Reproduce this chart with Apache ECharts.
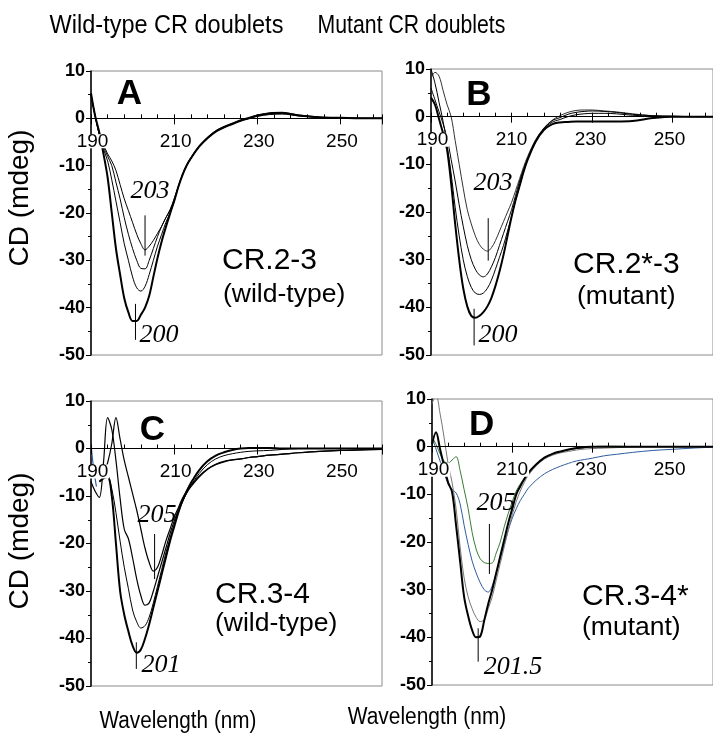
<!DOCTYPE html>
<html>
<head>
<meta charset="utf-8">
<script src="https://cdn.jsdelivr.net/npm/echarts@6/dist/echarts.min.js"></script>
<style>
html,body{margin:0;padding:0;background:#fff;}
#chart{width:713px;height:742px;}
</style>
</head>
<body>
<div id="chart"></div>
<script>
// ---- DATA ----
const X0 = 190; // axis origin (nm)
const xTickLabels = [190, 210, 230, 250];
const yTicks = [10, 0, -10, -20, -30, -40, -50];
const Y_MIN = -50, Y_MAX = 10;
const wl = [190,191,192,193,194,195,196,197,198,199,200,201,202,203,204,205,206,207,208,209,
            210,211,212,213,214,216,218,220,222,224,226,228,230,233,236,240,245,250,255,260];

// Panel A: CR.2-3 (wild-type)
const A1 = [5.3,0.5,-3,-7.5,-12.5,-20,-27.5,-33,-38,-41,-42.8,-42.8,-41.5,-40,-37.5,-33.5,-29.5,-26,-23,-20.2,
            -17.5,-14.5,-12,-10,-8.5,-6,-4.2,-2.8,-1.9,-1.2,-0.5,0,0.6,1.1,1.2,0.6,0.2,0.1,0,0];
const A2 = [5,0.5,-3.5,-6.5,-9,-13,-17.5,-22,-26.5,-30,-33.5,-35.8,-36.5,-35.5,-33,-30,-27,-24.5,-22,-20,
            -17.5,-14.5,-12,-10,-8.5,-6,-4.2,-2.8,-1.9,-1.2,-0.5,0,0.5,0.9,1.0,0.6,0.2,0.1,0,0];
const A3 = [5,0.5,-3.5,-6,-8,-10,-13.5,-17,-21,-24.5,-27.5,-30,-31.7,-31.8,-30,-27.5,-25,-22.8,-21,-19.5,
            -17.3,-14.5,-12,-10,-8.5,-6,-4.2,-2.8,-1.9,-1.2,-0.5,0,0.4,0.8,0.9,0.5,0.2,0.1,0,0];
const A4 = [5,0.5,-3,-5.5,-7.5,-9,-11,-14,-17,-19.5,-22,-24.5,-26.5,-27.8,-27,-25.8,-24.3,-22.8,-21,-19.3,
            -17,-14.3,-11.8,-9.8,-8.3,-5.8,-4,-2.6,-1.7,-1,-0.3,0.2,0.7,1.1,1.2,0.7,0.3,0.1,0,0];

// Panel B: CR.2*-3 (mutant)
const B1 = [4,2.5,-0.5,-3.5,-7,-14,-22.5,-30,-36,-39.8,-41.8,-42.2,-41.8,-41,-39.8,-38,-35.5,-32.5,-29,-25,
            -21,-17.5,-14.5,-11.5,-9,-5.2,-2.8,-1.6,-1.2,-1.1,-1.0,-1.0,-1.0,-1.0,-1.0,-0.9,-0.3,0,0,0];
const B2 = [10,7,3,-1,-6,-12,-19,-25,-30,-33.5,-35.8,-37,-37.3,-37,-36,-34.3,-32,-29.5,-27,-24,
            -21,-17.5,-14.5,-11.5,-9,-5.2,-2.6,-1.2,-0.6,0,0.4,0.6,0.7,0.7,0.6,0.3,0.1,0,0,0];
const B3 = [6,3.5,1,-1.5,-4.5,-9,-13.5,-18.5,-23,-27,-30,-32,-33.2,-33.6,-33,-31.5,-29.5,-27,-24.5,-22,
            -19.5,-16.5,-13.5,-11,-8.8,-5,-2.5,-0.9,-0.2,0.5,0.9,1.1,1.2,1.1,0.9,0.5,0.2,0.1,0,0];
const B4 = [8,9.3,8.5,5.5,2.5,0,-5,-10,-15,-19.5,-22.5,-25,-26.8,-27.8,-28.2,-27.5,-26,-24,-22,-20,
            -18,-15.5,-13,-10.5,-8.3,-4.8,-2.4,-0.8,0.2,0.9,1.3,1.4,1.4,1.2,1.0,0.6,0.2,0.1,0,0];

// Panel C: CR.3-4 (wild-type)
const C1 = [null,null,-7,-6.3,-6,-10,-20,-30,-35,-38.5,-41.5,-43,-42.3,-40,-37,-33.5,-30,-26.5,-23,-19.5,
            -16.5,-13.5,-11,-9,-7.3,-4.6,-2.7,-1.5,-0.8,-0.3,0,0.1,0.1,0.1,0,0,0,0,0,0];
const C2 = [null,null,null,-6,-5.8,-8.5,-13.5,-19.5,-25,-29.5,-34,-36.5,-37.8,-37.3,-35.5,-32.5,-29,-25.5,-22,-19,
            -16,-13.5,-11.3,-9.4,-7.8,-5.3,-3.4,-2.2,-1.5,-1.1,-0.8,-0.6,-0.5,-0.4,-0.2,0,0,0,0,0];
const C3 = [-7,-9,-10.3,-3,6.5,4,-2.5,-10.5,-17,-19,-23,-27.5,-31,-33,-32.5,-30,-27,-24,-21,-18,
            -15.3,-13,-11,-9.4,-8.1,-6,-4.4,-3.4,-2.8,-2.4,-2.2,-1.9,-1.7,-1.4,-1.2,-0.9,-0.6,-0.4,-0.3,-0.2];
const C4 = [null,null,null,-5.5,-3,1,6.5,2,-2.5,-6,-9.5,-13,-17,-21,-24,-25.8,-25,-22.5,-19.5,-17,
            -14.5,-12.5,-10.5,-9,-7.8,-5.8,-4.3,-3.3,-2.7,-2.4,-2.2,-1.9,-1.7,-1.4,-1.2,-0.9,-0.6,-0.4,-0.3,-0.2];
const Cblue_wl = [190.1, 190.6, 191.3];
const Cblue    = [0, -4, -8];

// Panel D: CR.3-4* (mutant)
const D1 = [0.5,3,-0.5,-4,-7.5,-9.5,-16.5,-24,-31.5,-35.5,-38.5,-40,-39.8,-36.5,-33,-30,-26.5,-23,-19.5,-16,
            -13,-10,-8.3,-6.8,-5.5,-3.7,-2.3,-1.5,-1,-0.6,-0.3,-0.1,0,0,0,0,0,0,0,0];
const D2 = [9,10.8,7,2,-3.5,-7.5,-13,-21,-27.5,-31.5,-34,-35.8,-36.7,-36.3,-34,-31.5,-28,-24.5,-21,-17.5,
            -14.3,-11.5,-9.3,-7.5,-6,-4,-2.6,-1.8,-1.3,-1,-0.7,-0.5,-0.4,-0.3,-0.2,-0.1,0,0,0,0];
const D3 = [2,-0.5,-3,-5.5,-7.8,-9,-9.7,-12,-16.5,-20.5,-24,-26.5,-28.5,-30,-30.5,-29.2,-26.5,-23.5,-20.5,-17.5,
            -15,-13,-11.3,-10,-8.7,-7,-5.7,-4.8,-4.1,-3.5,-3,-2.7,-2.4,-1.9,-1.6,-1.2,-0.8,-0.55,-0.3,-0.1];
const D4 = [2,0.5,-1.5,-3,-3.5,-2.8,-2.1,-5,-9,-13,-18,-21.5,-23.5,-24.3,-24.5,-24.4,-22.3,-20,-16.8,-14,
            -11.5,-9.3,-7.8,-6.6,-5.5,-3.6,-2.4,-1.6,-1.1,-0.7,-0.4,-0.2,0,0.1,0.1,0,0,0,0,0];

// peak-marker lines: [wavelength, yFrom, yTo]
const markA = [[203.0,-20.5,-29],[200.7,-39.2,-46.8]];
const markB = [[204.2,-21.3,-30.2],[200.7,-40.3,-48]];
const markC = [[205.3,-18,-27.5],[200.9,-40.8,-46.4]];
const markD = [[204.3,-16.2,-26.7],[201.5,-38.1,-45.1]];

// ---- CHART ----
const SANS = 'Liberation Sans, Arial, sans-serif';
const SERIF = 'Liberation Serif, Times New Roman, serif';
const panels = [
  {left:91, top:71, width:291, height:284},
  {left:431, top:69, width:290, height:286},
  {left:91, top:401, width:291, height:285},
  {left:432, top:399, width:290, height:286}
];
const N = panels.length;

// grids 0..3: plots; 4..7: overlay for upward minor ticks; 8..11: upper part (above y=0) carrying x labels
const gridOpts = [];
panels.forEach(g => gridOpts.push(Object.assign({show:true, borderColor:'#8a8a8a', borderWidth:1, containLabel:false}, g)));
panels.forEach(g => gridOpts.push(Object.assign({show:false, containLabel:false}, g)));
panels.forEach(g => gridOpts.push({show:false, containLabel:false, left:g.left, width:g.width, top:g.top,
  height:g.height * (Y_MAX - 0) / (Y_MAX - Y_MIN)}));

const xAxes = [], yAxes = [];
panels.forEach((g, i) => {
  xAxes.push({
    gridIndex:i, type:'value', position:'bottom', min:0, max:70, interval:20, z:5,
    axisLine:{show:true, onZero:true, lineStyle:{color:'#000', width:1}},
    axisTick:{show:true, length:6, lineStyle:{color:'#000', width:1}},
    axisLabel:{show:false}, splitLine:{show:false}
  });
  yAxes.push({
    gridIndex:i, type:'value', min:Y_MIN, max:Y_MAX, interval:10,
    axisLine:{show:true, onZero:false, lineStyle:{color:'#000', width:1.5}},
    axisTick:{show:true, length:5, lineStyle:{color:'#000', width:1}},
    minorTick:{show:true, splitNumber:2, length:3, lineStyle:{color:'#000', width:1}},
    axisLabel:{fontSize:18, fontWeight:'bold', fontFamily:SANS, color:'#000', margin:6,
      formatter:v => (yTicks.indexOf(v) >= 0 ? String(v) : '')},
    splitLine:{show:false}
  });
});
panels.forEach((g, i) => {
  xAxes.push({
    gridIndex:N + i, type:'value', position:'top', min:0, max:70, interval:4, z:5,
    axisLine:{show:false, onZero:true},
    axisTick:{show:true, length:4, lineStyle:{color:'#000', width:1}},
    axisLabel:{show:false}, splitLine:{show:false}
  });
  yAxes.push({
    gridIndex:N + i, type:'value', min:Y_MIN, max:Y_MAX, interval:10,
    axisLine:{show:false, onZero:false}, axisTick:{show:false}, axisLabel:{show:false}, splitLine:{show:false}
  });
});
panels.forEach((g, i) => {
  xAxes.push({
    gridIndex:2 * N + i, type:'value', position:'bottom', min:0, max:70, interval:20, z:6,
    axisLine:{show:false, onZero:false}, axisTick:{show:false},
    axisLabel:{show:true, formatter:v => (xTickLabels.indexOf(v + X0) >= 0 ? String(v + X0) : ''),
      fontSize:19, fontFamily:SANS, color:'#000', margin:16, lineHeight:14,
      backgroundColor:'#fff', padding:[0,1,0,4]},
    splitLine:{show:false}
  });
  yAxes.push({
    gridIndex:2 * N + i, type:'value', min:0, max:Y_MAX,
    axisLine:{show:false, onZero:false}, axisTick:{show:false}, axisLabel:{show:false}, splitLine:{show:false}
  });
});

function curve(panel, vals, color, width, xs) {
  const w = xs || wl;
  return {
    type:'line', xAxisIndex:panel, yAxisIndex:panel, showSymbol:false, symbol:'none',
    smooth:0.35, connectNulls:false, animation:false, z:2,
    lineStyle:{color:color, width:width},
    data:w.map((x, k) => [x - X0, vals[k]])
  };
}
function marks(panel, arr) {
  return arr.map(m => ({
    type:'line', xAxisIndex:panel, yAxisIndex:panel, showSymbol:false, symbol:'none',
    animation:false, z:3, lineStyle:{color:'#000', width:1},
    data:[[m[0] - X0, m[1]], [m[0] - X0, m[2]]]
  }));
}

const series = [
  curve(0, A4, '#000', 1), curve(0, A3, '#000', 1), curve(0, A2, '#000', 1), curve(0, A1, '#000', 2),
  curve(1, B4, '#333', 1), curve(1, B3, '#000', 1), curve(1, B2, '#000', 1), curve(1, B1, '#000', 2),
  curve(2, C4, '#000', 1.2), curve(2, C3, '#000', 1.2), curve(2, C2, '#000', 1), curve(2, C1, '#000', 2),
  curve(2, Cblue, '#2f5c9e', 1.2, Cblue_wl),
  curve(3, D4, '#3a7a36', 1), curve(3, D3, '#2f5c9e', 1), curve(3, D2, '#777', 1), curve(3, D1, '#000', 2),
  ...marks(0, markA), ...marks(1, markB), ...marks(2, markC), ...marks(3, markD)
];

function txt(t, x, y, size, opts) {
  opts = opts || {};
  return {
    type:'text', x:x, y:y, rotation:opts.rot || 0, scaleX:opts.sx || 1, scaleY:opts.sy || 1, z:10,
    style:{text:t, fontSize:size, fontFamily:opts.family || SANS, fontWeight:opts.weight || 'normal',
      fontStyle:opts.style || 'normal', fill:'#000', textAlign:opts.align || 'center', textVerticalAlign:'middle'}
  };
}

const graphic = [
  txt('Wild-type CR doublets', 166.5, 26, 25, {sx:0.94}),
  txt('Mutant CR doublets', 411.5, 26, 25, {sx:0.85}),
  txt('Wavelength (nm)', 178, 722, 23, {sx:0.9}),
  txt('Wavelength (nm)', 427, 718, 23, {sx:0.91}),
  txt('CD (mdeg)', 20, 198, 28, {rot:Math.PI/2}),
  txt('CD (mdeg)', 20, 541, 28, {rot:Math.PI/2}),
  txt('A', 129.5, 94, 35, {weight:'bold'}),
  txt('B', 479, 95, 35, {weight:'bold'}),
  txt('C', 152.5, 430, 35, {weight:'bold'}),
  txt('D', 481.7, 425, 35, {weight:'bold'}),
  txt('CR.2-3', 222, 261, 30, {align:'left'}),
  txt('(wild-type)', 223, 295, 26.5, {align:'left'}),
  txt('CR.2*-3', 573, 265, 30, {align:'left'}),
  txt('(mutant)', 577, 297, 26.5, {align:'left'}),
  txt('CR.3-4', 215, 595, 30, {align:'left'}),
  txt('(wild-type)', 215, 624, 26.5, {align:'left'}),
  txt('CR.3-4*', 582, 597, 30, {align:'left'}),
  txt('(mutant)', 582, 628, 26.5, {align:'left'}),
  txt('203', 150, 191, 26, {family:SERIF, style:'italic'}),
  txt('200', 159, 335, 26, {family:SERIF, style:'italic'}),
  txt('203', 493, 183, 26, {family:SERIF, style:'italic'}),
  txt('200', 498, 335, 26, {family:SERIF, style:'italic'}),
  txt('205', 157, 515, 26, {family:SERIF, style:'italic'}),
  txt('201', 161, 665, 26, {family:SERIF, style:'italic'}),
  txt('205', 496, 503, 26, {family:SERIF, style:'italic'}),
  txt('201.5', 513, 667, 26, {family:SERIF, style:'italic'})
];

const chart = echarts.init(document.getElementById('chart'), null, {renderer:'canvas'});
chart.setOption({
  animation:false,
  backgroundColor:'#fff',
  grid:gridOpts,
  xAxis:xAxes,
  yAxis:yAxes,
  series:series,
  graphic:graphic
});
</script>
</body>
</html>
